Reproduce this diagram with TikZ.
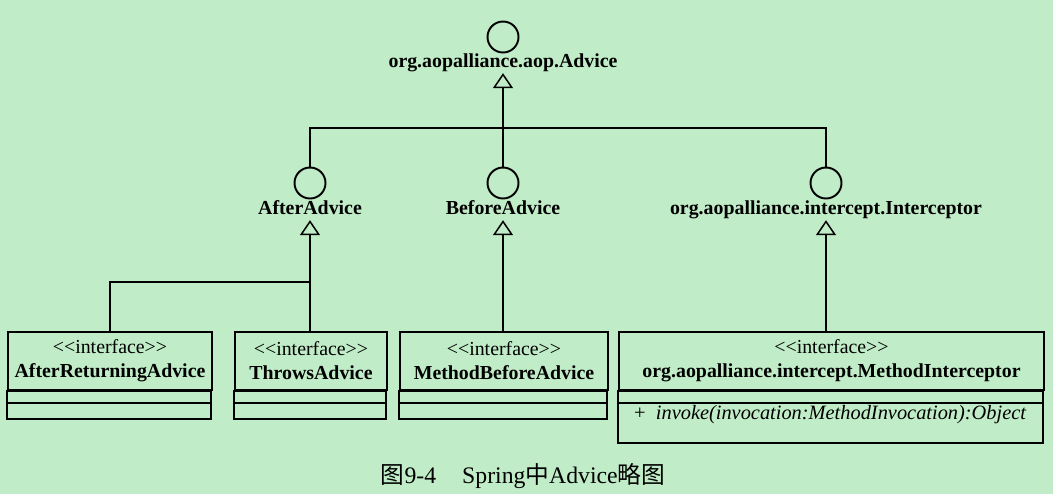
\documentclass[tikz,border=0pt]{standalone}
\usepackage{fontspec}
\setmainfont{Liberation Serif}
\newfontfamily\cjk{Noto Sans CJK SC}
\usetikzlibrary{arrows.meta}
\definecolor{paper}{RGB}{193,236,200}
\tikzset{
  iface/.style={circle, draw, line width=1.1pt, minimum size=0.62cm, inner sep=0pt},
  lbl/.style={font=\fontsize{11.3}{13.6}\selectfont\bfseries, inner sep=1pt, text height=1.55ex, text depth=0.45ex},
  gen/.style={-{Triangle[open, length=0.3cm, width=0.4cm]}, line width=0.85pt},
  head/.style={draw, line width=1.1pt, align=center, inner sep=0pt, minimum height=1.16cm},
  frame/.style={line width=1.1pt}
}
\newcommand{\stereo}{<\kern0pt<interface>\kern0pt>}

\begin{document}
\begin{tikzpicture}[x=0.02cm, y=-0.02cm, font=\fontsize{11.3}{13.6}\selectfont]
        \fill[paper] (0,0) rectangle (1053,494);
        \useasboundingbox (0,0) rectangle (1053,494);
        %Advice
        \node[iface] (advc) at (503,37) {};
        \node[lbl] (advl) at (503,63) {org.aopalliance.aop.Advice};
        %AfterAdvice, BeforeAdvice, Interceptor
        \node[iface] (aftc) at (310,183) {};
        \node[lbl] (aftl) at (310,210) {AfterAdvice};
        \node[iface] (befc) at (503,183) {};
        \node[lbl] (befl) at (503,210) {BeforeAdvice};
        \node[iface] (intc) at (826,183) {};
        \node[lbl] (intl) at (826,210) {org.aopalliance.intercept.Interceptor};
        \coordinate (hub) at (503,128);
        \draw[line width=0.85pt] (aftc.north) |- (hub) -| (intc.north);
        \draw[gen] (befc.north) -- (advl.south);
        % AfterReturningAdvice
        \node[head, minimum width=4.08cm] (arbox) at (110,361) {\stereo\\\textbf{AfterReturningAdvice}};
        \draw[frame] (arbox.south west) rectangle ++(204,12);
        \draw[frame] (arbox.south west) ++(0,12) rectangle ++(204,16);
        % ThrowsAdvice
        \node[head, minimum width=3.04cm] (thbox) at (311,361) {\stereo\\\textbf{ThrowsAdvice}};
        \draw[frame] (thbox.south west) rectangle ++(152,12);
        \draw[frame] (thbox.south west) ++(0,12) rectangle ++(152,16);
        % MethodBeforeAdvice
        \node[head, minimum width=4.16cm] (mbbox) at (504,361) {\stereo\\\textbf{MethodBeforeAdvice}};
        \draw[frame] (mbbox.south west) rectangle ++(208,12);
        \draw[frame] (mbbox.south west) ++(0,12) rectangle ++(208,16);
        % MethodInterceptor
        \node[head, minimum width=8.5cm] (mibox) at (831.5,361) {\stereo\\\textbf{org.aopalliance.intercept.MethodInterceptor}};
        \draw[frame] (mibox.south west) rectangle ++(425,12);
        \draw[frame] (mibox.south west) ++(0,12) rectangle ++(425,40);
        \node[anchor=west, font=\fontsize{11.6}{13.6}\selectfont] (invk) at (628,415) {+\enspace\textit{invoke(invocation:MethodInvocation):Object}};
        % generalisations
        \coordinate (join) at (aftl.south |- 0,282);
        \draw[line width=0.85pt] (arbox.north) |- (join);
        \draw[gen] (aftl.south |- thbox.north) -- (aftl.south);
        \draw[gen] (befl.south |- mbbox.north) -- (befl.south);
        \draw[gen] (intl.south |- mibox.north) -- (intl.south);
        % caption
        \node (cap) at (523,476) {\fontsize{13.5}{15}\selectfont{\cjk 图}9-4\hspace{1.1em}Spring{\cjk 中}Advice{\cjk 略图}};
\end{tikzpicture}
\end{document}
